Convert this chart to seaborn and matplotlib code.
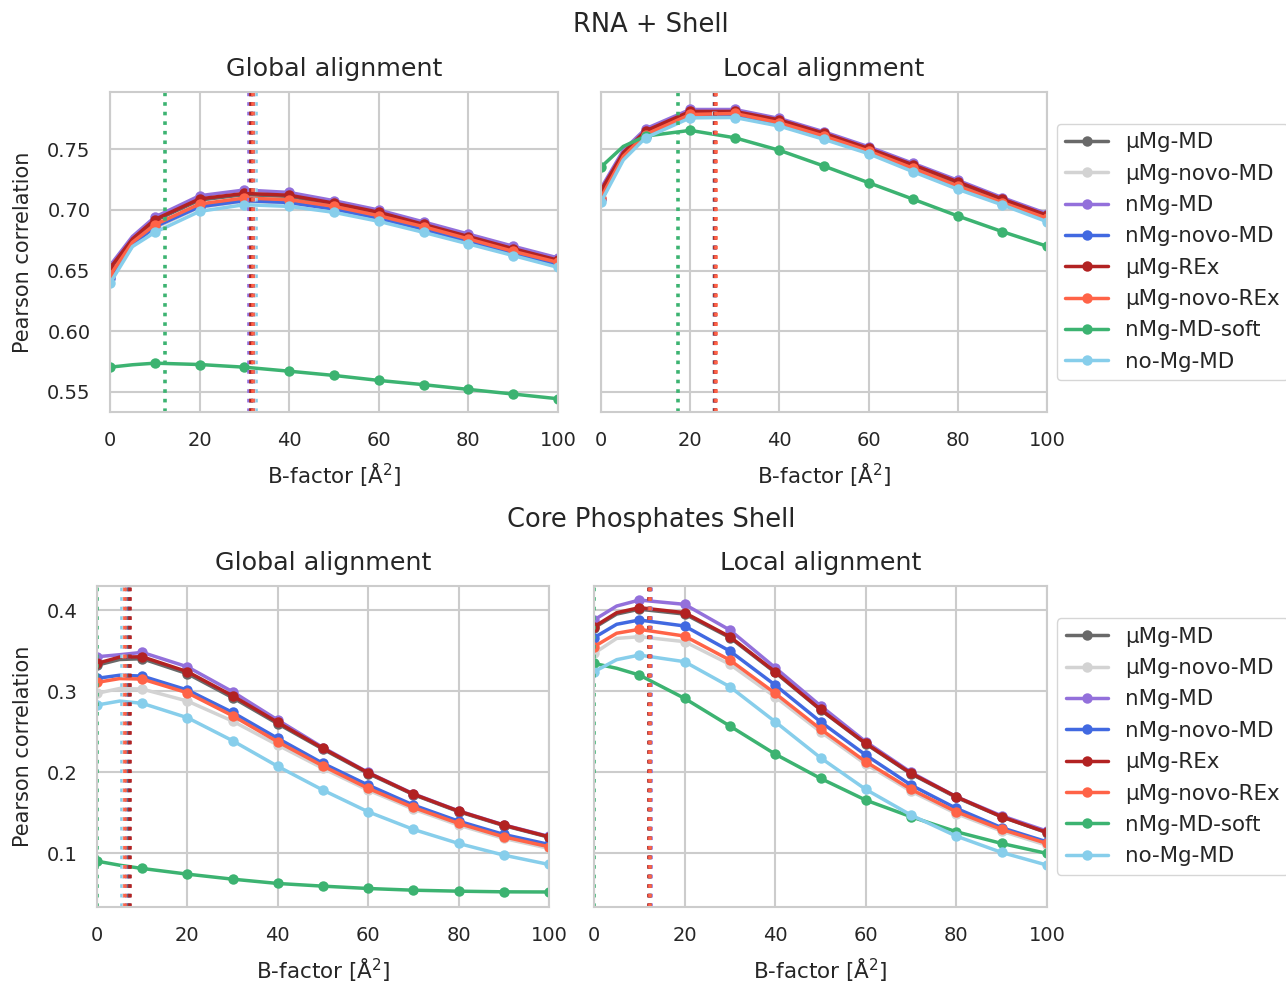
import numpy as np
import pandas as pd
import matplotlib
matplotlib.use("Agg")
import matplotlib.pyplot as plt
from matplotlib.lines import Line2D
import seaborn as sns

# ---------------- data ----------------
MODELS = ["µMg-MD", "µMg-novo-MD", "nMg-MD", "nMg-novo-MD",
          "µMg-REx", "µMg-novo-REx", "nMg-MD-soft", "no-Mg-MD"]
COLORS = ["#696969", "#d3d3d3", "#9370db", "#4169e1",
          "#b22222", "#ff6347", "#3cb371", "#87ceeb"]

BFACTOR = [0, 5, 10, 20, 30, 40, 50, 60, 70, 80, 90, 100]
XTICKS = [0, 20, 40, 60, 80, 100]
YTICKS_TOP = [0.55, 0.60, 0.65, 0.70, 0.75]
YTICKS_BOTTOM = [0.1, 0.2, 0.3, 0.4]

# RNA + Shell, global alignment
RNA_GLOBAL = {
    "µMg-MD":       [0.651, 0.675, 0.691, 0.708, 0.7125, 0.711, 0.7045, 0.697, 0.687, 0.677, 0.667, 0.6578],
    "µMg-novo-MD":  [0.643, 0.670, 0.685, 0.702, 0.707, 0.7055, 0.700, 0.6925, 0.6835, 0.6735, 0.6635, 0.6545],
    "nMg-MD":       [0.654, 0.678, 0.694, 0.7116, 0.7163, 0.7143, 0.7075, 0.6998, 0.690, 0.680, 0.670, 0.6604],
    "nMg-novo-MD":  [0.644, 0.671, 0.686, 0.7025, 0.7075, 0.706, 0.7005, 0.693, 0.684, 0.674, 0.664, 0.655],
    "µMg-REx":      [0.652, 0.676, 0.692, 0.709, 0.7135, 0.712, 0.7055, 0.698, 0.688, 0.678, 0.668, 0.6585],
    "µMg-novo-REx": [0.646, 0.6732, 0.6877, 0.7048, 0.7097, 0.7083, 0.7028, 0.6951, 0.6861, 0.676, 0.6658, 0.6567],
    "nMg-MD-soft":  [0.5704, 0.5724, 0.5737, 0.5726, 0.5704, 0.5671, 0.5636, 0.5595, 0.556, 0.5521, 0.5483, 0.5444],
    "no-Mg-MD":     [0.6395, 0.6697, 0.6814, 0.6987, 0.7042, 0.7028, 0.6979, 0.6905, 0.6814, 0.6719, 0.6623, 0.6526],
}
RNA_GLOBAL_BEST = [31.4, 32.2, 31.0, 32.0, 31.5, 31.9, 12.2, 32.6]

# RNA + Shell, local alignment
RNA_LOCAL = {
    "µMg-MD":       [0.715, 0.746, 0.764, 0.780, 0.780, 0.773, 0.762, 0.7495, 0.736, 0.722, 0.708, 0.6948],
    "µMg-novo-MD":  [0.708, 0.742, 0.760, 0.777, 0.7775, 0.770, 0.759, 0.747, 0.733, 0.7185, 0.7048, 0.6918],
    "nMg-MD":       [0.7177, 0.749, 0.7667, 0.7826, 0.7826, 0.7752, 0.7642, 0.7519, 0.7382, 0.7243, 0.710, 0.6968],
    "nMg-novo-MD":  [0.709, 0.743, 0.761, 0.7775, 0.778, 0.7705, 0.7597, 0.7475, 0.7333, 0.719, 0.7052, 0.6922],
    "µMg-REx":      [0.716, 0.747, 0.765, 0.781, 0.781, 0.774, 0.763, 0.7505, 0.737, 0.723, 0.7088, 0.6955],
    "µMg-novo-REx": [0.710, 0.744, 0.762, 0.7785, 0.7793, 0.7716, 0.7607, 0.7484, 0.7341, 0.7196, 0.7059, 0.693],
    "nMg-MD-soft":  [0.7352, 0.7522, 0.7607, 0.7654, 0.7593, 0.749, 0.736, 0.7223, 0.7087, 0.6949, 0.682, 0.670],
    "no-Mg-MD":     [0.7065, 0.741, 0.7593, 0.7757, 0.776, 0.7689, 0.758, 0.7462, 0.7313, 0.7169, 0.704, 0.6902],
}
RNA_LOCAL_BEST = [25.5, 25.4, 25.5, 25.5, 25.5, 25.7, 17.2, 25.4]

# Core phosphates shell, global alignment
CORE_GLOBAL = {
    "µMg-MD":       [0.332, 0.339, 0.340, 0.3215, 0.292, 0.2598, 0.2285, 0.1985, 0.1725, 0.1515, 0.1343, 0.120],
    "µMg-novo-MD":  [0.2973, 0.3033, 0.3026, 0.2878, 0.2631, 0.2335, 0.2048, 0.178, 0.1546, 0.1349, 0.1185, 0.1062],
    "nMg-MD":       [0.3424, 0.3449, 0.3478, 0.330, 0.2993, 0.2644, 0.2305, 0.1998, 0.1735, 0.1525, 0.1352, 0.1210],
    "nMg-novo-MD":  [0.3158, 0.3196, 0.3186, 0.3014, 0.2738, 0.2418, 0.211, 0.1842, 0.1596, 0.1398, 0.1234, 0.1111],
    "µMg-REx":      [0.3342, 0.342, 0.3424, 0.324, 0.2943, 0.2615, 0.2295, 0.1994, 0.1731, 0.1522, 0.1349, 0.1205],
    "µMg-novo-REx": [0.3108, 0.3155, 0.3149, 0.298, 0.2697, 0.2376, 0.2077, 0.1802, 0.1567, 0.137, 0.1205, 0.1082],
    "nMg-MD-soft":  [0.0905, 0.0855, 0.0815, 0.0745, 0.0683, 0.063, 0.0597, 0.0568, 0.0547, 0.0535, 0.0527, 0.0525],
    "no-Mg-MD":     [0.2829, 0.2878, 0.285, 0.2673, 0.2389, 0.2073, 0.178, 0.1513, 0.1296, 0.1123, 0.0979, 0.0864],
}
CORE_GLOBAL_BEST = [7.1, 6.0, 7.0, 6.6, 7.2, 6.3, 0.0, 5.5]

# Core phosphates shell, local alignment
CORE_LOCAL = {
    "µMg-MD":       [0.378, 0.395, 0.401, 0.395, 0.366, 0.323, 0.277, 0.235, 0.198, 0.169, 0.145, 0.1255],
    "µMg-novo-MD":  [0.3466, 0.365, 0.3671, 0.361, 0.333, 0.293, 0.25, 0.21, 0.1766, 0.149, 0.1275, 0.110],
    "nMg-MD":       [0.3877, 0.4049, 0.4123, 0.407, 0.3753, 0.3289, 0.282, 0.2376, 0.1999, 0.1698, 0.1464, 0.1275],
    "nMg-novo-MD":  [0.3659, 0.3824, 0.3877, 0.3803, 0.3494, 0.3075, 0.2623, 0.2212, 0.1842, 0.1555, 0.1317, 0.1143],
    "µMg-REx":      [0.3794, 0.3967, 0.4029, 0.3967, 0.3671, 0.3239, 0.2775, 0.2356, 0.1987, 0.1698, 0.1452, 0.1259],
    "µMg-novo-REx": [0.3548, 0.3714, 0.3762, 0.3679, 0.3383, 0.2973, 0.2533, 0.213, 0.1789, 0.1513, 0.1296, 0.1123],
    "nMg-MD-soft":  [0.3342, 0.3282, 0.3199, 0.2911, 0.257, 0.2224, 0.1925, 0.1657, 0.1452, 0.1267, 0.1123, 0.100],
    "no-Mg-MD":     [0.3239, 0.3388, 0.3445, 0.3363, 0.3054, 0.2623, 0.2179, 0.1789, 0.1472, 0.1213, 0.1012, 0.0856],
}
CORE_LOCAL_BEST = [12.3, 12.3, 12.6, 12.4, 12.2, 12.4, 0.0, 12.1]

ROW_TITLES = ["RNA + Shell", "Core Phosphates Shell"]
COL_TITLES = ["Global alignment", "Local alignment"]
XLABEL = "B-factor [Å$^2$]"
YLABEL = "Pearson correlation"

# ---------------- style ----------------
sns.set_theme(style="whitegrid")
plt.rcParams["font.family"] = ["DejaVu Sans"]
palette = dict(zip(MODELS, COLORS))
VLINE_ORDER = ["no-Mg-MD", "nMg-MD-soft", "µMg-novo-MD", "nMg-novo-MD",
               "nMg-MD", "µMg-MD", "µMg-REx", "µMg-novo-REx"]

W, H = 1286, 982
fig = plt.figure(figsize=(W / 100, H / 100), dpi=100)


def px_axes(x0, y0, x1, y1):
    return fig.add_axes([x0 / W, 1 - y1 / H, (x1 - x0) / W, (y1 - y0) / H])


axes = [
    [px_axes(110, 92, 558, 412), px_axes(601, 92, 1047, 412)],
    [px_axes(97, 586, 549, 907), px_axes(594, 586, 1047, 907)],
]
panels = [[(RNA_GLOBAL, RNA_GLOBAL_BEST), (RNA_LOCAL, RNA_LOCAL_BEST)],
          [(CORE_GLOBAL, CORE_GLOBAL_BEST), (CORE_LOCAL, CORE_LOCAL_BEST)]]
ylims = [(0.5335, 0.797), (0.034, 0.4296)]
yticks = [YTICKS_TOP, YTICKS_BOTTOM]
yfmt = ["{:.2f}", "{:.1f}"]
mark_idx = [i for i, b in enumerate(BFACTOR) if b % 10 == 0]

for r in range(2):
    for c in range(2):
        ax = axes[r][c]
        vals, best = panels[r][c]
        df = pd.DataFrame([
            {"B": b, "r": v, "model": m}
            for m in MODELS for b, v in zip(BFACTOR, vals[m])
        ])
        sns.lineplot(data=df, x="B", y="r", hue="model", hue_order=MODELS,
                     palette=palette, marker="o", markevery=mark_idx,
                     markersize=7.5, markeredgewidth=0, linewidth=2.5,
                     errorbar=None, legend=False, ax=ax, sort=True)
        best_map = dict(zip(MODELS, best))
        for m in VLINE_ORDER:
            ax.axvline(best_map[m], color=palette[m], ls=":", lw=2.6)
        ax.set_xlim(0, 100)
        ax.set_ylim(*ylims[r])
        ax.set_xticks(XTICKS)
        ax.set_yticks(yticks[r])
        ax.tick_params(labelsize=14, pad=8)
        ax.set_xlabel(XLABEL, fontsize=15.5, labelpad=8)
        ax.set_title(COL_TITLES[c], fontsize=18.3, pad=11.5)
        if c == 0:
            ax.set_yticklabels([yfmt[r].format(t) for t in yticks[r]])
            ax.set_ylabel(YLABEL, fontsize=15, labelpad=10)
        else:
            ax.set_ylabel("")
            ax.set_yticklabels([])
        for sp in ax.spines.values():
            sp.set_color("#cccccc")
            sp.set_linewidth(1.5)
        ax.grid(color="#cccccc", linewidth=1.5)
    handles = [Line2D([], [], color=col, lw=2.5, marker="o", markersize=7.5,
                      markeredgewidth=0) for col in COLORS]
    axes[r][1].legend(handles, MODELS, loc="center left",
                      bbox_to_anchor=(1.022, 0.5), fontsize=15.4,
                      labelspacing=0.53, frameon=True, borderaxespad=0)

fig.text(651 / W, 1 - 25 / H, ROW_TITLES[0], ha="center", va="center", fontsize=18.5)
fig.text(651 / W, 1 - 520 / H, ROW_TITLES[1], ha="center", va="center", fontsize=18.5)

fig.savefig("out.png", dpi=100)
